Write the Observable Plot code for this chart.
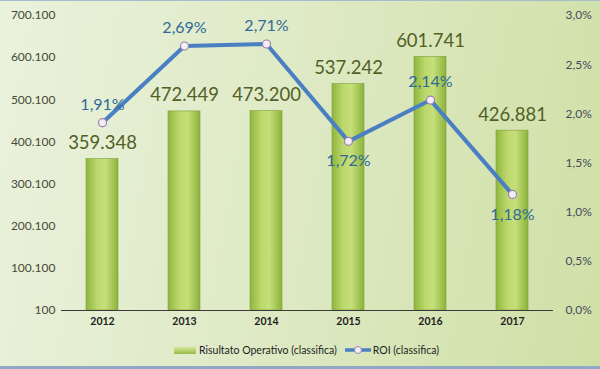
<!DOCTYPE html>
<html>
<head>
<meta charset="utf-8">
<script src="https://cdn.jsdelivr.net/npm/d3@7"></script>
<script src="https://cdn.jsdelivr.net/npm/@observablehq/plot@0.6"></script>
<style>
  html, body { margin: 0; padding: 0; }
  body {
    width: 600px; height: 369px; overflow: hidden; box-sizing: border-box;
    background: linear-gradient(100deg, #eaf2dc 0%, #dfeac6 45%, #cfe0a6 100%);
    border-top: 1px solid #a9bccf; border-bottom: 3px solid #8fa8c6;
    font-family: Lato, "Open Sans", sans-serif;
  }
  #chart svg { display: block; background: transparent; }
  #legend {
    display: flex; justify-content: center; align-items: center; gap: 8px;
    height: 28px; font-size: 10.5px; color: #1e1e1e; margin-left: 12px;
  }
  .item { display: flex; align-items: center; gap: 2px; }
</style>
</head>
<body>
<div id="chart"></div>
<div id="legend"></div>
<script>
const years = ["2012", "2013", "2014", "2015", "2016", "2017"];
const risultato = [359348, 472449, 473200, 537242, 601741, 426881];
const roi = [1.91, 2.69, 2.71, 1.72, 2.14, 1.18];
const roiLabelBelow = ["2015", "2017"];
const leftTicks = [100, 100100, 200100, 300100, 400100, 500100, 600100, 700100];
const rightTicks = [0, 0.5, 1.0, 1.5, 2.0, 2.5, 3.0];
const seriesNames = ["Risultato Operativo (classifica)", "ROI (classifica)"];

const loc = d3.formatLocale({decimal: ",", thousands: ".", grouping: [3], currency: ["", "€"]});
const fmtInt = loc.format(",d");
const fmtPct2 = loc.format(".2f");
const fmtPct1 = loc.format(".1f");

const yMin = leftTicks[0], yMax = leftTicks[leftTicks.length - 1];
const pMax = rightTicks[rightTicks.length - 1];
const toY = p => yMin + p / pMax * (yMax - yMin);

const data = years.map((year, i) => ({year, value: risultato[i], roi: roi[i]}));
const above = data.filter(d => !roiLabelBelow.includes(d.year));
const below = data.filter(d => roiLabelBelow.includes(d.year));

const plot = Plot.plot({
  width: 600,
  height: 335,
  marginLeft: 61,
  marginRight: 47,
  marginTop: 14,
  marginBottom: 26,
  style: {fontFamily: "Lato, 'Open Sans', sans-serif", background: "transparent"},
  x: {domain: years, paddingInner: 0.61, paddingOuter: 0.305, label: null},
  y: {domain: [yMin, yMax], label: null},
  marks: [
    Plot.barY(data, {x: "year", y1: yMin, y2: "value", fill: "url(#barGrad)", stroke: "#7f9f3a", strokeWidth: 0.6}),
    Plot.axisY({ticks: leftTicks, tickFormat: fmtInt, tickSize: 0, tickPadding: 6, fontSize: 12, fill: "#474a38", label: null}),
    Plot.axisY({anchor: "right", ticks: rightTicks.map(toY), tickFormat: v => fmtPct1((v - yMin) / (yMax - yMin) * pMax) + "%", tickSize: 0, tickPadding: 12, fontSize: 12, fill: "#474a5a", label: null}),
    Plot.axisX({tickSize: 0, tickPadding: 7, fontSize: 10.5, fontWeight: "bold", fill: "#222", label: null}),
    Plot.ruleX([0], {frameAnchor: "left", stroke: "#1f1f1f", strokeWidth: 1.2}),
    Plot.ruleY([yMin], {stroke: "#3a3a3a", strokeWidth: 1.2}),
    Plot.text(data, {x: "year", y: "value", text: d => fmtInt(d.value), dy: -16, fontSize: 18.5, fill: "#525f26"}),
    Plot.line(data, {x: "year", y: d => toY(d.roi), stroke: "#4a7fc3", strokeWidth: 4, strokeLinejoin: "round"}),
    Plot.dot(data, {x: "year", y: d => toY(d.roi), r: 4, fill: "#f4eff7", stroke: "#9b82b3", strokeWidth: 1.2}),
    Plot.text(above, {x: "year", y: d => toY(d.roi), text: d => fmtPct2(d.roi) + "%", dy: -18, fontSize: 16, fill: "#2f6a98"}),
    Plot.text(below, {x: "year", y: d => toY(d.roi), text: d => fmtPct2(d.roi) + "%", dy: 20, fontSize: 16, fill: "#2f6a98"})
  ]
});

const ns = "http://www.w3.org/2000/svg";
const defs = document.createElementNS(ns, "defs");
defs.innerHTML = `<linearGradient id="barGrad" x1="0" x2="1" y1="0" y2="0">
  <stop offset="0%" stop-color="#8fb63e"/>
  <stop offset="35%" stop-color="#bcd86c"/>
  <stop offset="60%" stop-color="#c6df7a"/>
  <stop offset="100%" stop-color="#8cb33b"/>
</linearGradient>`;
plot.insertBefore(defs, plot.firstChild);
document.getElementById("chart").appendChild(plot);

const legend = document.getElementById("legend");
legend.innerHTML = `
  <div class="item"><svg width="24" height="10"><defs><linearGradient id="lg" x1="0" x2="0" y1="0" y2="1"><stop offset="0" stop-color="#d6e89a"/><stop offset="1" stop-color="#97bb48"/></linearGradient></defs><rect x="1" y="2" width="22" height="7" fill="url(#lg)"/></svg><span>${seriesNames[0]}</span></div>
  <div class="item"><svg width="26" height="10"><line x1="0" x2="26" y1="5" y2="5" stroke="#4a7fc3" stroke-width="3.5"/><circle cx="13" cy="5" r="3.5" fill="#f4eff7" stroke="#9b82b3" stroke-width="1"/></svg><span>${seriesNames[1]}</span></div>`;
</script>
</body>
</html>
